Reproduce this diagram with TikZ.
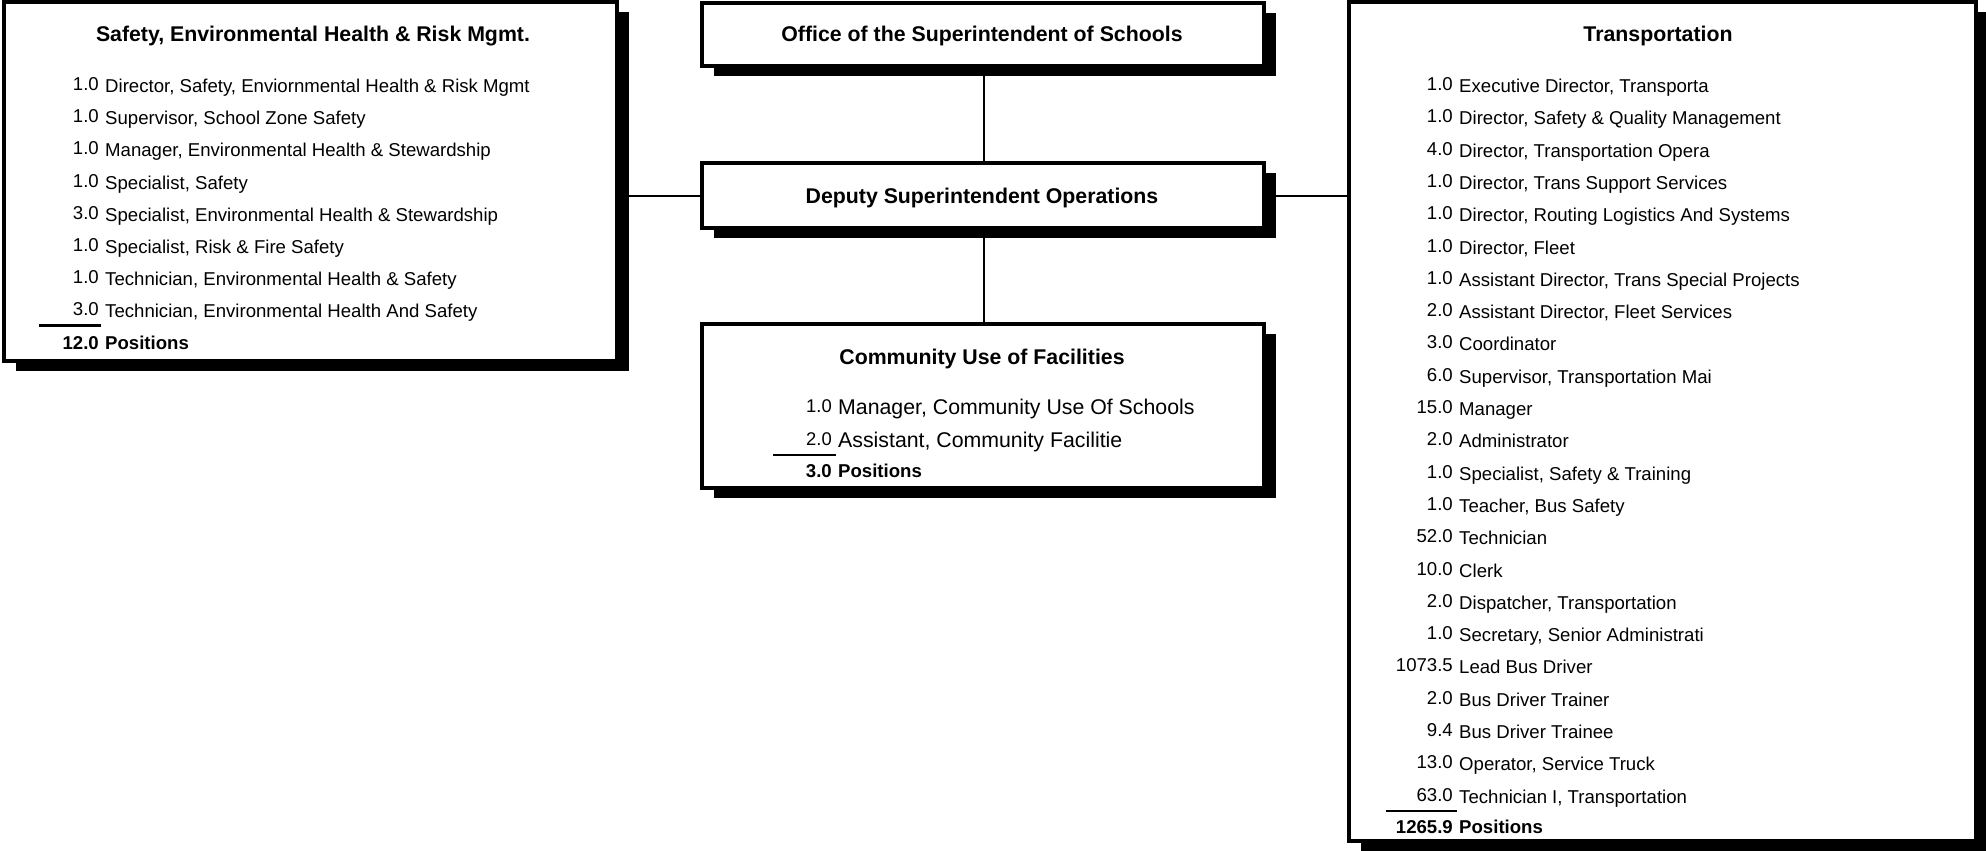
\documentclass[tikz,border=0pt]{standalone}
\usepackage{fontspec}
\setmainfont{Liberation Sans}
\usetikzlibrary{shadows}
\begin{document}
\begin{tikzpicture}[x=1pt,y=-1pt,
  box/.style={draw=black, line width=3.5pt, fill=white, inner sep=0pt, outer sep=0pt,
    drop shadow={shadow xshift=12pt, shadow yshift=-10pt, fill=black, opacity=1}},
  ttl/.style={font=\fontsize{21.3}{24}\selectfont\bfseries, anchor=base, inner sep=0pt},
  num/.style={font=\fontsize{18.6}{22}\selectfont, anchor=base east, inner sep=0pt, yshift=2pt},
  lbl/.style={font=\fontsize{18.6}{22}\selectfont, anchor=base west, inner sep=0pt},
  cnum/.style={font=\fontsize{18.4}{21}\selectfont, anchor=base east, inner sep=0pt, yshift=2pt},
  clbl/.style={font=\fontsize{21.3}{24}\selectfont, anchor=base west, inner sep=0pt},
  tnum/.style={font=\fontsize{18.6}{22}\selectfont\bfseries, anchor=base east, inner sep=0pt},
  tlbl/.style={font=\fontsize{18.6}{22}\selectfont\bfseries, anchor=base west, inner sep=0pt},
  conn/.style={draw=black, line width=1.6pt},
  hconn/.style={draw=black, line width=2.2pt},
  uline/.style={draw=black, line width=2.5pt}
]
\useasboundingbox (0,0) rectangle (1986,851);

% connectors (drawn first, boxes cover them)
\coordinate (cL) at (617,196);
\coordinate (cR) at (1349,196);
\draw[conn] (984,66) -- (984,163);
\draw[conn] (984,228) -- (984,324);
\draw[hconn] (cL) -- (702,196);
\draw[hconn] (1264,196) -- (cR);

% boxes
\node[box, minimum width=613pt, minimum height=359pt] (sehr) at (310.5,181.5) {};
\node[box, minimum width=562pt, minimum height=63pt] (office) at (983,34.5) {};
\node[box, minimum width=562pt, minimum height=65pt] (deputy) at (983,195.5) {};
\node[box, minimum width=562pt, minimum height=164pt] (community) at (983,406) {};
\node[box, minimum width=627pt, minimum height=839pt] (trans) at (1662.5,421.5) {};

% titles
\node[ttl] (sehrT) at (313,41.5) {Safety, Environmental Health \& Risk Mgmt.};
\node[ttl] (officeT) at (982,41.5) {Office of the Superintendent of Schools};
\node[ttl] (deputyT) at (982,203.5) {Deputy Superintendent Operations};
\node[ttl] (commT) at (982,364.5) {Community Use of Facilities};
\node[ttl] (transT) at (1658,41.5) {Transportation};

% Safety rows
\foreach \n/\t [count=\i, evaluate=\i as \yy using 92.5+32.2*(\i-1)] in {
  1.0/{Director, Safety, Enviornmental Health \& Risk Mgmt},
  1.0/{Supervisor, School Zone Safety},
  1.0/{Manager, Environmental Health \& Stewardship},
  1.0/{Specialist, Safety},
  3.0/{Specialist, Environmental Health \& Stewardship},
  1.0/{Specialist, Risk \& Fire Safety},
  1.0/{Technician, Environmental Health \& Safety},
  3.0/{Technician, Environmental Health And Safety}} {
  \node[num] (Ln\i) at (99,\yy) {\n};
  \node[lbl] (Lt\i) at (105,\yy) {\t};
}
\draw[uline] (39,325.5) -- (101,325.5);
\node[tnum] (LnT) at (99,349.2) {12.0};
\node[tlbl] (LtT) at (105,349.2) {Positions};

% Community rows
\node[cnum] (Cn1) at (832,414.5) {1.0};
\node[clbl] (Ct1) at (838,414.5) {Manager, Community Use Of Schools};
\node[cnum] (Cn2) at (832,447.5) {2.0};
\node[clbl] (Ct2) at (838,447.5) {Assistant, Community Facilitie};
\draw[uline] (773,455) -- (836,455);
\node[tnum] (CnT) at (832,477.5) {3.0};
\node[tlbl] (CtT) at (838,477.5) {Positions};

% Transportation rows
\foreach \n/\t [count=\i, evaluate=\i as \yy using 92.5+32.3*(\i-1)] in {
  1.0/{Executive Director, Transporta},
  1.0/{Director, Safety \& Quality Management},
  4.0/{Director, Transportation Opera},
  1.0/{Director, Trans Support Services},
  1.0/{Director, Routing Logistics And Systems},
  1.0/{Director, Fleet},
  1.0/{Assistant Director, Trans Special Projects},
  2.0/{Assistant Director, Fleet Services},
  3.0/{Coordinator},
  6.0/{Supervisor, Transportation Mai},
  15.0/{Manager},
  2.0/{Administrator},
  1.0/{Specialist, Safety \& Training},
  1.0/{Teacher, Bus Safety},
  52.0/{Technician},
  10.0/{Clerk},
  2.0/{Dispatcher, Transportation},
  1.0/{Secretary, Senior Administrati},
  1073.5/{Lead Bus Driver},
  2.0/{Bus Driver Trainer},
  9.4/{Bus Driver Trainee},
  13.0/{Operator, Service Truck},
  63.0/{Technician I, Transportation}} {
  \node[num] (Tn\i) at (1453,\yy) {\n};
  \node[lbl] (Tt\i) at (1459,\yy) {\t};
}
\draw[uline] (1386,811) -- (1457,811);
\node[tnum] (TnT) at (1453,833.2) {1265.9};
\node[tlbl] (TtT) at (1459,833.2) {Positions};
\end{tikzpicture}
\end{document}
